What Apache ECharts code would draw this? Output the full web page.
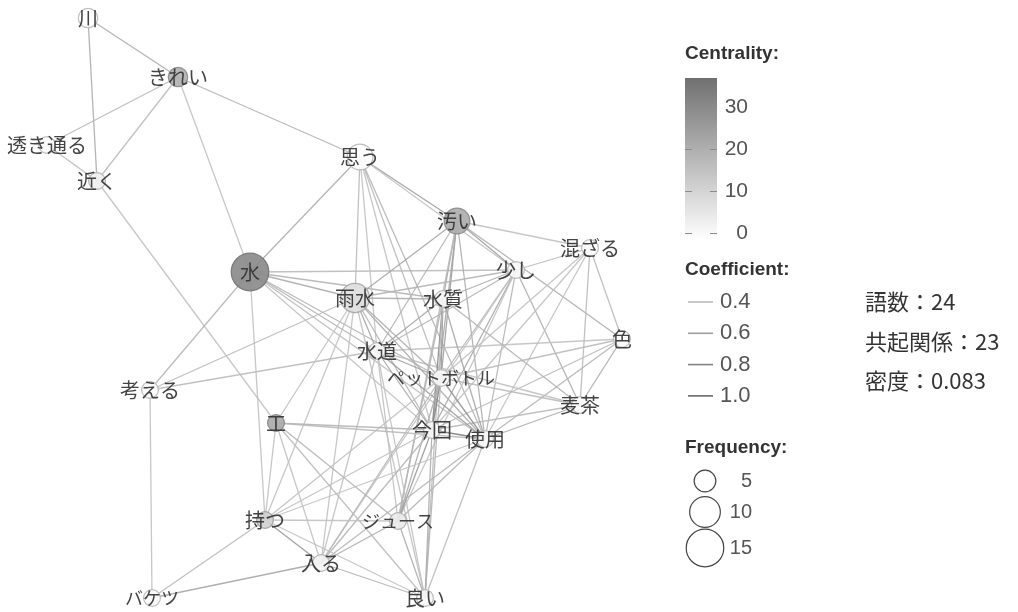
<!DOCTYPE html>
<html><head><meta charset="utf-8">
<script src="https://cdn.jsdelivr.net/npm/echarts@6/dist/echarts.min.js"></script>
<style>html,body{margin:0;padding:0;background:#fff}#c{width:1018px;height:612px}</style>
</head><body><div id="c"></div>
<script>
// ---- data ----
const words = ['川','きれい','透き通る','近く','思う','汚い','混ざる','少し','水','雨水','水質','色','水道','ペットボトル','考える','麦茶','工','今回','使用','持つ','ジュース','入る','バケツ','良い'];
const posX = [88,178,47,97,360,457,590,516,250,355,443,622,377,441,150,580,276,432,485,265,398,321,152,425];
const posY = [18,77,145,181,157,221,248,270,272,298,299,339,351,378,390,405,423,430,439,520,521,563,598,598];
const freq = [4,4,3,3,7,7,3,3,15,9,3,3,3,3,3,3,3,3,3,3,3,3,3,3];
const centrality = [0,20,1,4,0,21,1,2,30,8,2,1,2,2,1,1,22,2,2,12,5,3,1,2];
const edges = [
 ['川','きれい',0.5],['川','近く',0.5],['きれい','透き通る',0.4],['きれい','近く',0.4],['透き通る','近く',0.4],
 ['きれい','思う',0.45],['きれい','水',0.35],['近く','工',0.35],
 ['水','思う',0.5],['水','考える',0.45],['水','持つ',0.35],['水','雨水',0.5],['水','水質',0.45],['水','少し',0.4],
 ['水','水道',0.45],['水','ペットボトル',0.45],['水','今回',0.35],['水','使用',0.4],
 ['考える','雨水',0.4],['考える','水道',0.4],['考える','バケツ',0.35],
 ['思う','汚い',0.6],['思う','雨水',0.4],['思う','水道',0.35],['思う','ペットボトル',0.4],['思う','今回',0.35],['思う','使用',0.45],['思う','少し',0.35],
 ['汚い','混ざる',0.35],['汚い','少し',0.6],['汚い','色',0.5],['汚い','雨水',0.55],['汚い','水道',0.45],['汚い','水質',0.55],
 ['汚い','ペットボトル',0.6],['汚い','今回',0.55],['汚い','使用',0.5],['汚い','ジュース',0.4],
 ['少し','混ざる',0.4],['少し','雨水',0.45],['少し','水質',0.5],['少し','水道',0.45],['少し','ペットボトル',0.45],['少し','今回',0.55],
 ['少し','使用',0.45],['少し','麦茶',0.5],['少し','ジュース',0.35],['少し','入る',0.35],
 ['混ざる','色',0.4],['混ざる','麦茶',0.4],['混ざる','今回',0.35],['混ざる','使用',0.35],['混ざる','ペットボトル',0.35],
 ['色','麦茶',0.5],['色','ペットボトル',0.4],['色','今回',0.4],['色','使用',0.45],['色','水道',0.35],
 ['麦茶','水質',0.45],['麦茶','ペットボトル',0.4],['麦茶','今回',0.4],['麦茶','使用',0.5],['麦茶','水道',0.35],
 ['雨水','水質',0.5],['雨水','水道',0.55],['雨水','ペットボトル',0.5],['雨水','今回',0.45],['雨水','使用',0.5],
 ['雨水','工',0.35],['雨水','持つ',0.35],['雨水','入る',0.35],['雨水','良い',0.35],
 ['水質','水道',0.55],['水質','ペットボトル',0.65],['水質','今回',0.75],['水質','使用',0.55],['水質','ジュース',0.45],['水質','良い',0.4],
 ['水道','ペットボトル',0.6],['水道','今回',0.55],['水道','使用',0.65],['水道','入る',0.35],['水道','良い',0.35],['水道','ジュース',0.35],
 ['ペットボトル','今回',0.8],['ペットボトル','使用',0.7],['ペットボトル','ジュース',0.5],['ペットボトル','入る',0.45],['ペットボトル','良い',0.45],['ペットボトル','持つ',0.35],
 ['今回','使用',0.85],['今回','工',0.45],['今回','持つ',0.35],['今回','ジュース',0.65],['今回','入る',0.45],['今回','良い',0.5],
 ['使用','工',0.4],['使用','持つ',0.35],['使用','入る',0.45],['使用','ジュース',0.45],['使用','良い',0.4],
 ['工','持つ',0.35],['工','入る',0.35],['工','ジュース',0.45],['工','良い',0.4],
 ['持つ','ジュース',0.35],['持つ','入る',0.65],['持つ','バケツ',0.4],['持つ','良い',0.35],
 ['入る','バケツ',0.55],['入る','良い',0.45],['入る','ジュース',0.5],['ジュース','良い',0.5]
];
const coefTicks = [0.4,0.6,0.8,1.0];
const freqTicks = [5,10,15];
const statLines = ['語数：24','共起関係：23','密度：0.083'];

// ---- styling helpers ----
const CMAX = 37;
function clamp01(t){ return Math.max(0,Math.min(1,t)); }
function grayOf(t){ const v = Math.round(255 - (255-112)*clamp01(t)); return 'rgb('+v+','+v+','+v+')'; }
function nodeColor(c){ return grayOf(c/CMAX); }
function nodeBorder(c){ const v = Math.round(185 - 85*clamp01(c/CMAX)); return 'rgb('+v+','+v+','+v+')'; }
function edgeColor(k){ const v = Math.round(200 - (k-0.3)/0.7*95); return 'rgb('+v+','+v+','+v+')'; }
function freqSize(f){ return 9.7*Math.sqrt(f); }
function labelSize(w){ return /^[\u30A0-\u30FF]+$/.test(w) ? 18 : 20; }

const chart = echarts.init(document.getElementById('c'), null, {renderer:'canvas'});
const latin = '"Liberation Sans", Arial, sans-serif';
const cjk = '"Noto Sans CJK JP", sans-serif';

const graphic = [];
[['Centrality:',54],['Coefficient:',270],['Frequency:',448]].forEach(function(t){
  graphic.push({type:'text', x:685, y:t[1], style:{text:t[0], font:'bold 19px '+latin, fill:'#333', textVerticalAlign:'middle'}});
});
// colour bar
graphic.push({type:'rect', shape:{x:685,y:78,width:32,height:162}, style:{fill:{type:'linear',x:0,y:0,x2:0,y2:1,colorStops:[{offset:0,color:grayOf(1)},{offset:1,color:'#ffffff'}]}}, z:-1});
// coefficient legend
coefTicks.forEach(function(k,i){
  const y = 302 + i*31.3;
  graphic.push({type:'line', shape:{x1:688,y1:y,x2:713,y2:y}, style:{stroke:edgeColor(k), lineWidth:1.6}});
  graphic.push({type:'text', x:720, y:y, style:{text:k.toFixed(1), font:'22px '+latin, fill:'#555', textVerticalAlign:'middle'}});
});
// frequency legend
const fy = [481,512,548];
freqTicks.forEach(function(f,i){
  graphic.push({type:'circle', shape:{cx:705, cy:fy[i], r:freqSize(f)/2}, style:{fill:'none', stroke:'#444', lineWidth:1.2}});
  graphic.push({type:'text', x:752, y:fy[i], style:{text:String(f), font:'20px '+latin, fill:'#555', textAlign:'right', textVerticalAlign:'middle'}});
});
// stats
statLines.forEach(function(s,i){
  graphic.push({type:'text', x:865, y:302+i*39.5, style:{text:s, font:'22px '+cjk, fill:'#333', textVerticalAlign:'middle'}});
});

chart.setOption({
  animation:false,
  backgroundColor:'#fff',
  grid:[{left:0,right:0,top:0,bottom:0},{left:685,top:78,width:32,height:155}],
  xAxis:[{type:'value',min:0,max:1018,show:false},{gridIndex:1,type:'value',show:false,min:0,max:1}],
  yAxis:[
    {type:'value',min:0,max:612,inverse:true,show:false},
    {gridIndex:1, type:'value', min:0, max:CMAX, interval:10, position:'right',
     axisLine:{show:false}, axisTick:{show:false},
     splitLine:{show:true, showMaxLine:false, lineStyle:{color:'#8c8c8c', width:1.2, type:[7,18]}},
     axisLabel:{show:true, align:'right', margin:31, fontSize:21, color:'#555', fontFamily:latin, showMaxLabel:false}}
  ],
  graphic: graphic,
  series:[{
    type:'graph', layout:'none', coordinateSystem:'cartesian2d', xAxisIndex:0, yAxisIndex:0,
    roam:false, silent:true,
    data: words.map(function(w,i){ return {name:w, value:[posX[i],posY[i]], symbolSize:freqSize(freq[i]),
      itemStyle:{color:nodeColor(centrality[i]), borderColor:nodeBorder(centrality[i]), borderWidth:1.2, opacity:0.92},
      label:{fontSize:labelSize(w)}}; }),
    links: edges.map(function(e){ return {source:e[0], target:e[1], lineStyle:{color:edgeColor(e[2]), width:1.3, opacity:0.9, curveness:0}}; }),
    label:{show:true, position:'inside', fontSize:20, color:'#333', fontFamily:cjk},
    emphasis:{disabled:true}
  }]
});
</script></body></html>
